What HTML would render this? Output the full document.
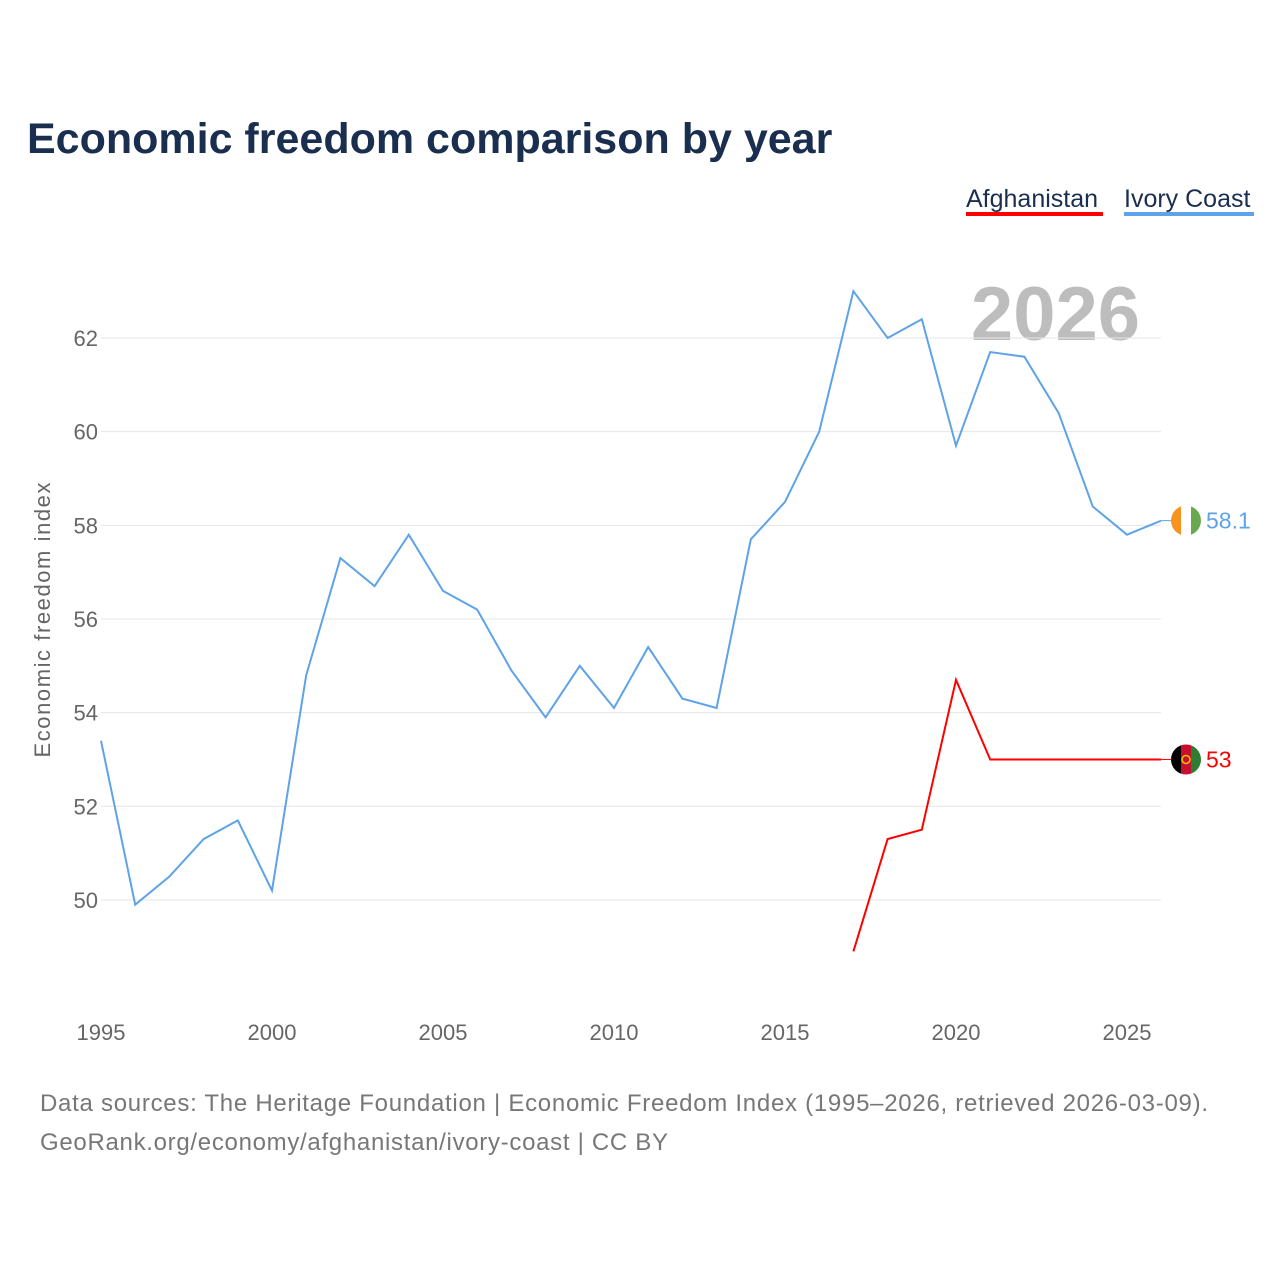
<!DOCTYPE html>
<html><head><meta charset="utf-8"><style>
body{margin:0;background:#fff;font-family:"Liberation Sans",sans-serif;}
svg{display:block}
</style></head><body>
<svg width="1280" height="1280" id="c" xmlns="http://www.w3.org/2000/svg">
<text x="27" y="153" font-size="43" font-weight="bold" fill="#1a2e4f">Economic freedom comparison by year</text>
<g>
<text x="966" y="207" font-size="25" fill="#1a2e4f">Afghanistan</text>
<rect x="966" y="212" width="137" height="4" fill="#ff0000"/>
<text x="1124" y="207" font-size="25" fill="#1a2e4f">Ivory Coast</text>
<rect x="1124" y="212" width="130" height="4" fill="#5ea3e8"/>
</g>
<text x="1140" y="340" font-size="76" font-weight="bold" fill="#bdbdbd" text-anchor="end">2026</text>
<text transform="translate(50,620) rotate(-90)" font-size="22" fill="#666" text-anchor="middle" textLength="275">Economic freedom index</text>
<g id="grid"></g><g id="lines"></g>
<text x="40" y="1111" font-size="24" fill="#777" textLength="1168">Data sources: The Heritage Foundation | Economic Freedom Index (1995–2026, retrieved 2026-03-09).</text>
<text x="40" y="1150" font-size="24" fill="#777" textLength="628">GeoRank.org/economy/afghanistan/ivory-coast | CC BY</text>
</svg>
<script>
const years=[1995,1996,1997,1998,1999,2000,2001,2002,2003,2004,2005,2006,2007,2008,2009,2010,2011,2012,2013,2014,2015,2016,2017,2018,2019,2020,2021,2022,2023,2024,2025,2026];
const ivoryCoast=[53.4,49.9,50.5,51.3,51.7,50.2,54.8,57.3,56.7,57.8,56.6,56.2,54.9,53.9,55.0,54.1,55.4,54.3,54.1,57.7,58.5,60.0,63.0,62.0,62.4,59.7,61.7,61.6,60.4,58.4,57.8,58.1];
const afgYears=[2017,2018,2019,2020,2021,2022,2023,2024,2025,2026];
const afghanistan=[48.9,51.3,51.5,54.7,53.0,53.0,53.0,53.0,53.0,53.0];
const yTicks=[50,52,54,56,58,60,62];
const xTicks=[1995,2000,2005,2010,2015,2020,2025];
const NS="http://www.w3.org/2000/svg";
const X=y=>101+(y-1995)*34.2;
const Y=v=>338+(62-v)*46.83;
function mk(t,a,p){const e=document.createElementNS(NS,t);for(const k in a)e.setAttribute(k,a[k]);p.appendChild(e);return e;}
const g=document.getElementById('grid'),L=document.getElementById('lines');
yTicks.forEach(v=>{
 const l=mk('line',{x1:101,x2:1161,y1:Y(v),y2:Y(v),stroke:'#e6e6e6','stroke-width':1},g);
 
 
 const t=mk('text',{x:98,y:Y(v)+8,'font-size':22,fill:'#666','text-anchor':'end'},g);t.textContent=v;
 
 
});
xTicks.forEach(v=>{
 const t=mk('text',{x:X(v),y:1040,'font-size':22,fill:'#666','text-anchor':'middle'},g);t.textContent=v;
 
 
});
function line(xs,vs,c,name){
 const p=mk('polyline',{points:xs.map((y,i)=>X(y)+','+Y(vs[i])).join(' '),fill:'none',stroke:c,'stroke-width':2},L);
 
 
}
line(years,ivoryCoast,'#5ea3e8','line-ivory-coast');
line(afgYears,afghanistan,'#ff0000','line-afghanistan');
const iv=ivoryCoast[ivoryCoast.length-1],af=afghanistan[afghanistan.length-1];
mk('line',{x1:X(2026),x2:1172,y1:Y(iv),y2:Y(iv),stroke:'#5ea3e8','stroke-width':1},L);
mk('line',{x1:X(2026),x2:1172,y1:Y(af),y2:Y(af),stroke:'#ff0000','stroke-width':1},L);
const f1=mk('g',{},L);


const cp1=mk('clipPath',{id:'c1'},f1);mk('circle',{cx:1186,cy:Y(iv),r:15},cp1);
mk('rect',{x:1171,y:Y(iv)-15,width:10,height:30,fill:'#f7931e','clip-path':'url(#c1)'},f1);
mk('rect',{x:1181,y:Y(iv)-15,width:10,height:30,fill:'#fff','clip-path':'url(#c1)'},f1);
mk('rect',{x:1191,y:Y(iv)-15,width:10,height:30,fill:'#6aa84f','clip-path':'url(#c1)'},f1);
const f2=mk('g',{},L);


const cp=mk('clipPath',{id:'c2'},f2);mk('circle',{cx:1186,cy:Y(af),r:15},cp);
mk('rect',{x:1171,y:Y(af)-15,width:10,height:30,fill:'#000','clip-path':'url(#c2)'},f2);
mk('rect',{x:1181,y:Y(af)-15,width:10,height:30,fill:'#c8102e','clip-path':'url(#c2)'},f2);
mk('rect',{x:1191,y:Y(af)-15,width:10,height:30,fill:'#2e7d32','clip-path':'url(#c2)'},f2);
mk('circle',{cx:1186,cy:Y(af),r:4,fill:'none',stroke:'#f2c200','stroke-width':1.5},f2);
const t1=mk('text',{x:1206,y:Y(iv)+8,'font-size':23,fill:'#5ea3e8'},L);t1.textContent=iv;


const t2=mk('text',{x:1206,y:Y(af)+8,'font-size':23,fill:'#ff0000'},L);t2.textContent=af;


</script>
</body></html>
